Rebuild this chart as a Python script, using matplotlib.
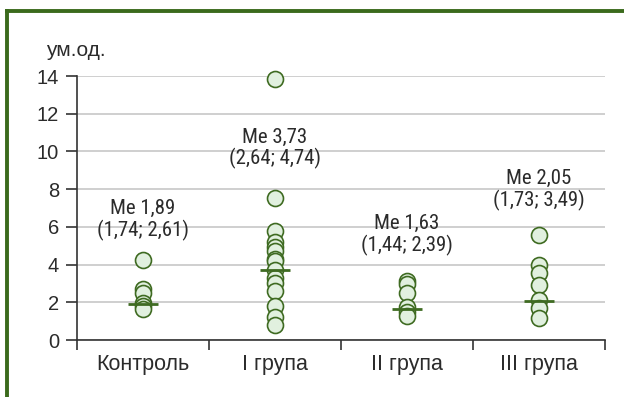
import matplotlib
matplotlib.use("Agg")
import matplotlib.pyplot as plt
from matplotlib import font_manager
from matplotlib.lines import Line2D

# Data
categories = ["Контроль", "I група", "II група", "III група"]
control = [4.25, 2.7, 2.5, 1.95, 1.8, 1.65]
group1 = [13.85, 7.55, 5.8, 5.2, 4.95, 4.7, 4.3, 4.2, 3.7, 3.3, 3.0, 2.6, 1.8, 1.2, 0.8]
group2 = [3.15, 2.95, 2.5, 1.75, 1.5, 1.25]
group3 = [5.55, 4.0, 3.55, 2.9, 2.1, 1.7, 1.15]
medians = [1.89, 3.73, 1.63, 2.05]
quartiles = [("1,74", "2,61"), ("2,64", "4,74"), ("1,44", "2,39"), ("1,73", "3,49")]
median_labels = ["1,89", "3,73", "1,63", "2,05"]
label_y = [6.35, 10.15, 5.57, 7.97]
yticks = [0, 2, 4, 6, 8, 10, 12, 14]
unit_label = "ум.од."

groups = [control, group1, group2, group3]

installed = {f.name for f in font_manager.fontManager.ttflist}
narrow = next((n for n in ["Roboto Condensed", "Liberation Sans Narrow",
                           "Open Sans Condensed", "Roboto"] if n in installed),
              "DejaVu Sans")
narrow_size = 15 if narrow != "Roboto" else 12
plt.rcParams["font.family"] = ["Liberation Sans", "DejaVu Sans"]

text_col = "#2b2b2b"
green = "#3f6b22"
face = "#e1f0df"

fig = plt.figure(figsize=(6.24, 3.97), dpi=100)
ax = fig.add_axes([77 / 624, 1 - 340 / 397, 528 / 624, 264 / 397])

xs = list(range(1, len(categories) + 1))
for x, vals in zip(xs, groups):
    ax.plot([x] * len(vals), vals, linestyle="none", marker="o", markersize=11.5,
            markerfacecolor=face, markeredgecolor=green, markeredgewidth=1.2,
            clip_on=False, zorder=3)

for x, m in zip(xs, medians):
    ax.plot([x - 0.115, x + 0.115], [m, m], color=green, lw=2.0, zorder=4,
            solid_capstyle="butt")

for x, med, (q1, q3), ly in zip(xs, median_labels, quartiles, label_y):
    ax.text(x, ly, f"Me {med}\n({q1}; {q3})", ha="center", va="center",
            fontsize=narrow_size, family=narrow, color=text_col, linespacing=1.1,
            zorder=5)

ax.set_xlim(0.5, len(categories) + 0.5)
ax.set_ylim(0, 14)
ax.set_yticks(yticks)
ax.set_yticklabels([str(t) for t in yticks])
ax.set_xticks([x - 0.5 for x in xs] + [xs[-1] + 0.5])
ax.set_xticklabels([])
ax.set_xticks(xs, minor=True)
ax.set_xticklabels(categories, minor=True)

ax.tick_params(axis="y", length=8, width=1.2, color="#333333", pad=5,
               labelsize=14.5, labelcolor=text_col)
ax.tick_params(axis="x", which="major", length=7, width=1.2, color="#333333")
ax.tick_params(axis="x", which="minor", length=0, pad=10, labelsize=15.5,
               labelcolor=text_col)

ax.grid(axis="y", color="#cccccc", lw=1.3)
ax.set_axisbelow(True)
for side in ("top", "right"):
    ax.spines[side].set_visible(False)
for side in ("left", "bottom"):
    ax.spines[side].set_color("#333333")
    ax.spines[side].set_linewidth(1.2)

fig.text(46 / 624, 1 - 50 / 397, unit_label, ha="left", va="center",
         fontsize=15, color=text_col)

# Green frame along the left and top edges
fig.add_artist(Line2D([7 / 624, 7 / 624], [0, 1 - 11 / 397], color="#3b6a1c",
                      lw=2.8, transform=fig.transFigure, solid_capstyle="projecting"))
fig.add_artist(Line2D([7 / 624, 1], [1 - 11 / 397, 1 - 11 / 397], color="#3b6a1c",
                      lw=2.8, transform=fig.transFigure, solid_capstyle="projecting"))

fig.savefig("out.png", dpi=100)
